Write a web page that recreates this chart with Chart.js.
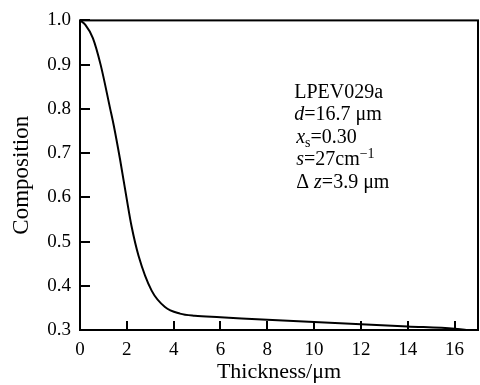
<!DOCTYPE html>
<html>
<head>
<meta charset="utf-8">
<script src="https://cdn.jsdelivr.net/npm/chart.js@4.4.1/dist/chart.umd.min.js"></script>
<style>
  html, body { margin: 0; padding: 0; background: #fff; }
  #wrap { width: 480px; height: 385px; }
</style>
</head>
<body>
<div id="wrap"><canvas id="profileChart"></canvas></div>
<script>
// composition profile
var thickness = [0, 0.23, 0.55, 0.88, 1.29, 1.44, 1.71, 1.99, 2.2, 2.5, 3.06, 3.63, 4.27, 4.9, 6, 8, 10, 12, 14, 16, 16.5];
var composition = [1.0, 0.99, 0.96, 0.9, 0.8, 0.763, 0.686, 0.598, 0.535, 0.468, 0.389, 0.352, 0.337, 0.332, 0.329, 0.323, 0.318, 0.313, 0.308, 0.303, 0.300];

var xTicks = [0, 2, 4, 6, 8, 10, 12, 14, 16];
var yTicks = [0.3, 0.4, 0.5, 0.6, 0.7, 0.8, 0.9, 1.0];

// note in the plot: [text, style] pieces per line
var noteLines = [
    [['LPEV029a', '']],
    [['d', 'i'], ['=16.7 \u03bcm', '']],
    [['x', 'i'], ['s', 'sub'], ['=0.30', '']],
    [['s', 'i'], ['=27cm', ''], ['\u22121', 'sup']],
    [['\u0394 ', ''], ['z', 'i'], ['=3.9 \u03bcm', '']]
];

var FONT = '"Liberation Serif", "Times New Roman", serif';

// ticks pointing inwards + closed frame + text note
var framePlugin = {
    id: 'frame',
    afterDatasetsDraw: function(chart) {
        var ctx = chart.ctx;
        var a = chart.chartArea;
        var xs = chart.scales.x, ys = chart.scales.y;
        ctx.save();
        ctx.strokeStyle = '#000';
        ctx.lineWidth = 2;
        ctx.strokeRect(a.left, a.top, a.right - a.left, a.bottom - a.top);
        ctx.beginPath();
        xs.ticks.forEach(function(t) {
            var px = Math.round(xs.getPixelForValue(t.value));
            ctx.moveTo(px, a.bottom);
            ctx.lineTo(px, a.bottom - 9);
        });
        ys.ticks.forEach(function(t) {
            var py = Math.round(ys.getPixelForValue(t.value));
            ctx.moveTo(a.left, py);
            ctx.lineTo(a.left + 10, py);
        });
        ctx.stroke();

        // note block
        var x0 = xs.getPixelForValue(9.15);
        var y0 = ys.getPixelForValue(0.825);
        ctx.fillStyle = '#000';
        ctx.textBaseline = 'alphabetic';
        noteLines.forEach(function(line, i) {
            var x = x0 + (i >= 2 ? 2 : 0);
            var y = y0 + i * 22.5;
            line.forEach(function(part) {
                var txt = part[0], st = part[1];
                var dy = 0;
                if (st === 'i') ctx.font = 'italic 20px ' + FONT;
                else if (st === 'sub') { ctx.font = '14px ' + FONT; dy = 4; }
                else if (st === 'sup') { ctx.font = '14px ' + FONT; dy = -7; }
                else ctx.font = '20px ' + FONT;
                ctx.fillText(txt, x, y + dy);
                x += ctx.measureText(txt).width;
            });
        });
        ctx.restore();
    }
};

Chart.defaults.font.family = FONT;
Chart.defaults.color = '#000';

new Chart(document.getElementById('profileChart'), {
    type: 'line',
    data: {
        datasets: [{
            data: thickness.map(function(t, i) { return {x: t, y: composition[i]}; }),
            borderColor: '#000',
            borderWidth: 2,
            pointRadius: 0,
            fill: false,
            cubicInterpolationMode: 'monotone'
        }]
    },
    options: {
        responsive: true,
        maintainAspectRatio: false,
        animation: false,
        layout: { padding: { top: 14, right: 2, left: 0, bottom: 0 } },
        plugins: {
            legend: { display: false },
            tooltip: { enabled: false }
        },
        scales: {
            x: {
                type: 'linear',
                min: 0,
                max: 17,
                grid: { display: false, drawTicks: false },
                border: { display: false },
                afterBuildTicks: function(s) {
                    s.ticks = xTicks.map(function(v) { return {value: v}; });
                },
                afterFit: function(s) { s.height = 55; },
                ticks: {
                    padding: 9,
                    maxRotation: 0,
                    font: { size: 19 }
                },
                title: {
                    display: true,
                    text: 'Thickness/\u03bcm',
                    font: { size: 22 },
                    padding: { top: 0, bottom: 0 }
                }
            },
            y: {
                min: 0.3,
                max: 1.0,
                grid: { display: false, drawTicks: false },
                border: { display: false },
                afterBuildTicks: function(s) {
                    s.ticks = yTicks.map(function(v) { return {value: v}; });
                },
                afterFit: function(s) { s.width = 80; },
                ticks: {
                    padding: 9,
                    font: { size: 19 },
                    callback: function(v) { return v.toFixed(1); }
                },
                title: {
                    display: true,
                    text: 'Composition',
                    font: { size: 23 },
                    padding: { top: 8, bottom: 0 }
                }
            }
        }
    },
    plugins: [framePlugin]
});
</script>
</body>
</html>
